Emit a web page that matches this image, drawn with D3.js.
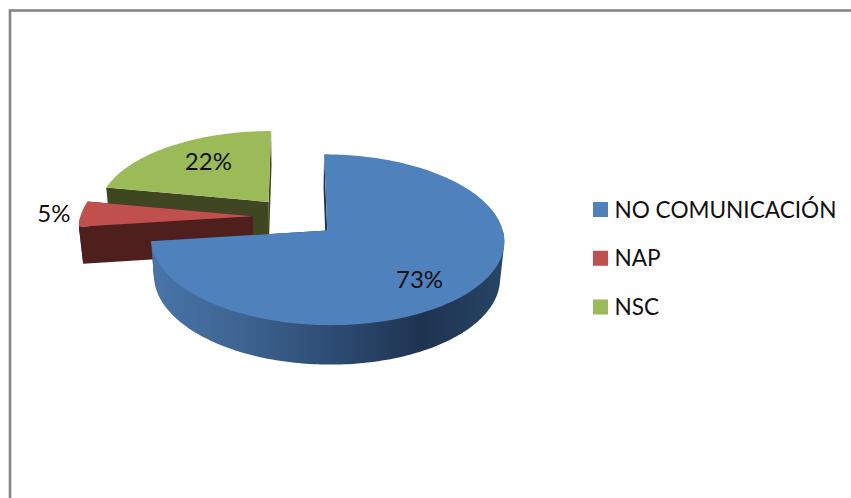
<!DOCTYPE html>
<html>
<head>
<meta charset="utf-8">
<script src="https://cdnjs.cloudflare.com/ajax/libs/d3/7.8.5/d3.min.js"></script>
<style>
html,body{margin:0;padding:0;background:#fff;overflow:hidden}
svg{display:block}
text{font-family:Lato,"Open Sans",sans-serif;fill:#111}
</style>
</head>
<body>
<svg id="c" width="851" height="498"></svg>
<script>
const categories = ["NO COMUNICACIÓN", "NAP", "NSC"];
const values = [73, 5, 22];
const labels = ["73%", "5%", "22%"];
const topColors = ["#4f81bd", "#c0504d", "#9bbb59"];
const sideColors = ["#1f3350", "#4f1f1d", "#3f4722"];

const W = 851, H = 498;
const svg = d3.select("#c");

// border of the chart area, running off the right and bottom of the picture
svg.append("rect").attr("x", 10).attr("y", 10.5).attr("width", W + 20).attr("height", H + 20)
  .attr("fill", "#fff").attr("stroke", "#868686").attr("stroke-width", 2.6);

const defs = svg.append("defs");
const grad = defs.append("linearGradient").attr("id", "wall")
  .attr("gradientUnits", "userSpaceOnUse").attr("x1", 155).attr("x2", 503).attr("y1", 0).attr("y2", 0);
[[0, "#4874a9"], [0.22, "#3f6694"], [0.5, "#2e4d74"], [0.77, "#1e3350"], [1, "#274565"]]
  .forEach(s => grad.append("stop").attr("offset", s[0]).attr("stop-color", s[1]));

// oblique perspective view of the exploded disc
const cx = 295, cy = 217, Rx = 172.5, Ry = 81.5, k = 0.107, Depth = 37.5, m = 0.02, explode = 0.245;
const project = (u, v, z) => {
  const w = 1 + k * v + m * z;
  return [cx + Rx * u / w, cy - Ry * v / w + Depth * z / w];
};
const line = d3.line();
const pie = d3.pie().sort(null).value(d => d);
const arcs = pie(values);

const offset = a => { const mid = (a.startAngle + a.endAngle) / 2; return [Math.sin(mid), Math.cos(mid)]; };
const rim = (a, ang, z) => {
  const o = offset(a);
  return project(explode * o[0] + Math.sin(ang), explode * o[1] + Math.cos(ang), z);
};
const apex = (a, z) => { const o = offset(a); return project(explode * o[0], explode * o[1], z); };
const angles = (s, e) => { const n = Math.max(2, Math.ceil((e - s) / 0.02)); return d3.range(n + 1).map(i => s + (e - s) * i / n); };

const drawOrder = [2, 1, 0];
const g = svg.append("g");
drawOrder.forEach(i => {
  const a = arcs[i];
  // cut faces
  [a.endAngle, a.startAngle].forEach(ang => {
    g.append("path")
      .attr("d", line([apex(a, 0), rim(a, ang, 0), rim(a, ang, 1), apex(a, 1)]) + "Z")
      .attr("fill", sideColors[i]);
  });
  // outer wall, where it faces the viewer: the hull of the upper and lower rims
  const s = Math.max(a.startAngle, Math.PI * 0.5), e = Math.min(a.endAngle, Math.PI * 1.5);
  if (e > s) {
    const as = angles(s, e);
    const pts = as.map(t => rim(a, t, 0)).concat(as.map(t => rim(a, t, 1)));
    g.append("path").attr("d", line(d3.polygonHull(pts)) + "Z").attr("fill", i === 0 ? "url(#wall)" : sideColors[i]);
  }
  // top face
  const topPts = [apex(a, 0)].concat(angles(a.startAngle, a.endAngle).map(t => rim(a, t, 0)));
  g.append("path").attr("d", line(topPts) + "Z").attr("fill", topColors[i]);
});

// data labels
const labelRadius = [0.73, 1.16, 0.66];
const labelNudge = [[-11, 6], [0, 0], [6, -3]];
arcs.forEach((a, i) => {
  const o = offset(a), r = explode + labelRadius[i];
  const p = project(o[0] * r, o[1] * r, 0);
  svg.append("text").attr("x", p[0] + labelNudge[i][0]).attr("y", p[1] + labelNudge[i][1]).attr("dy", "0.35em")
    .attr("text-anchor", "middle").attr("font-size", 24).text(labels[i]);
});

// legend
const legendY = d3.scalePoint().domain(categories).range([209.5, 307]);
const lg = svg.append("g");
categories.forEach((c, i) => {
  const y = legendY(c);
  lg.append("rect").attr("x", 593).attr("y", y - 7.5).attr("width", 15).attr("height", 15).attr("fill", topColors[i]);
  lg.append("text").attr("x", 614.5).attr("y", y).attr("dy", "0.36em").attr("font-size", 22.6).text(c);
});
</script>
</body>
</html>
